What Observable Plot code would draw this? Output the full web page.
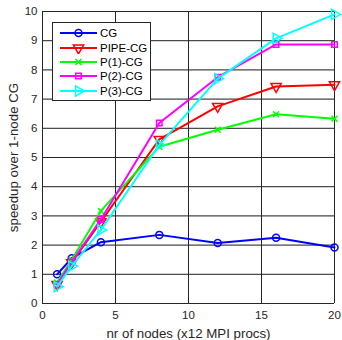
<!DOCTYPE html>
<html><head><meta charset="utf-8">
<script src="https://cdn.jsdelivr.net/npm/d3@7"></script>
<script src="https://cdn.jsdelivr.net/npm/@observablehq/plot@0.6"></script>
<style>
body{margin:0;background:#fff;font-family:"Liberation Sans",Arial,sans-serif;}
#wrap{position:relative;width:342px;height:340px;}
#legend{position:absolute;left:52px;top:22px;width:97px;border:1px solid #262626;background:#fff;padding:3px 0 2px 0;}
.le{display:flex;align-items:center;height:14.4px;font-size:11.5px;color:#000;}
.le svg{margin-left:7px;margin-right:3px;}
</style></head>
<body><div id="wrap"><div id="chart"></div><div id="legend"></div></div>
<script>
const nodes = [1, 2, 4, 8, 12, 16, 20];
const seriesNames = ["CG", "PIPE-CG", "P(1)-CG", "P(2)-CG", "P(3)-CG"];
const cg   = [1.0, 1.55, 2.1, 2.35, 2.07, 2.25, 1.92];
const pipe = [0.65, 1.4, 2.8, 5.62, 6.75, 7.43, 7.49];
const p1   = [0.72, 1.5, 3.17, 5.37, 5.95, 6.48, 6.33];
const p2   = [0.65, 1.42, 2.88, 6.18, 7.75, 8.87, 8.87];
const p3   = [0.58, 1.28, 2.52, 5.43, 7.7, 9.08, 9.9];
const xTicks = [0, 5, 10, 15, 20];
const yTicks = [0,1,2,3,4,5,6,7,8,9,10];

const values = [cg, pipe, p1, p2, p3];
const colors = ["#0000ff", "#ff0000", "#00ff00", "#ff00ff", "#00ffff"];
const symbols = ["circle", "triangle", "times", "square", "triangle"];
const rotates = [0, 180, 0, 0, 90];
const sizes = [3.5, 3.8, 2.8, 3.1, 3.8];

const marks = [
  Plot.gridX(xTicks, {stroke: "#e3e3e3", strokeOpacity: 1}),
  Plot.gridY(yTicks, {stroke: "#e3e3e3", strokeOpacity: 1}),
  Plot.axisX({ticks: xTicks, tickSize: 0, tickPadding: 7, fontSize: 11.5, color: "#262626", label: "nr of nodes (x12 MPI procs)", labelAnchor: "center", labelArrow: "none", labelOffset: 34}),
  Plot.axisY({ticks: yTicks, tickSize: 0, tickPadding: 5, fontSize: 11.5, color: "#262626", label: "speedup over 1-node CG", labelAnchor: "center", labelArrow: "none", labelOffset: 34}),
  Plot.tickX(xTicks, {x: d => d, y1: 0, y2: 0.1, stroke: "#262626"}),
  Plot.tickY(yTicks, {y: d => d, x1: 0, x2: 0.2, stroke: "#262626"}),
  Plot.ruleX([0], {stroke: "#262626"}),
  Plot.ruleY([0], {stroke: "#262626"})
];
values.forEach((vals, i) => {
  const data = nodes.map((n, j) => ({n, v: vals[j]}));
  marks.push(Plot.line(data, {x: "n", y: "v", stroke: colors[i], strokeWidth: 2}));
  marks.push(Plot.dot(data, {x: "n", y: "v", stroke: colors[i], symbol: symbols[i], r: sizes[i], rotate: rotates[i], strokeWidth: 1.5, fill: "none"}));
});

const chart = Plot.plot({
  width: 342, height: 340,
  marginLeft: 42, marginRight: 8, marginTop: 11, marginBottom: 37,
  style: {fontFamily: "Liberation Sans, Arial, sans-serif", fontSize: "13px", background: "#fff"},
  x: {domain: [0, 20]},
  y: {domain: [0, 10]},
  marks
});
chart.querySelectorAll("[aria-label='x-axis label'] text, [aria-label='y-axis label'] text").forEach(t => t.setAttribute("font-size", "13.3px"));
document.getElementById("chart").appendChild(chart);

// legend
const leg = document.getElementById("legend");
const symMap = {circle: d3.symbolCircle, triangle: d3.symbolTriangle, times: d3.symbolTimes, square: d3.symbolSquare};
seriesNames.forEach((name, i) => {
  const row = document.createElement("div");
  row.className = "le";
  const s = d3.create("svg").attr("width", 37).attr("height", 12);
  s.append("line").attr("x1", 0).attr("x2", 37).attr("y1", 6).attr("y2", 6).attr("stroke", colors[i]).attr("stroke-width", 2);
  const r = sizes[i];
  s.append("path").attr("d", d3.symbol(symMap[symbols[i]], Math.PI * r * r)())
    .attr("transform", `translate(18.5,6) rotate(${rotates[i]})`)
    .attr("fill", "none").attr("stroke", colors[i]).attr("stroke-width", 1.5);
  row.appendChild(s.node());
  const t = document.createElement("span");
  t.textContent = name;
  row.appendChild(t);
  leg.appendChild(row);
});
</script></body></html>
